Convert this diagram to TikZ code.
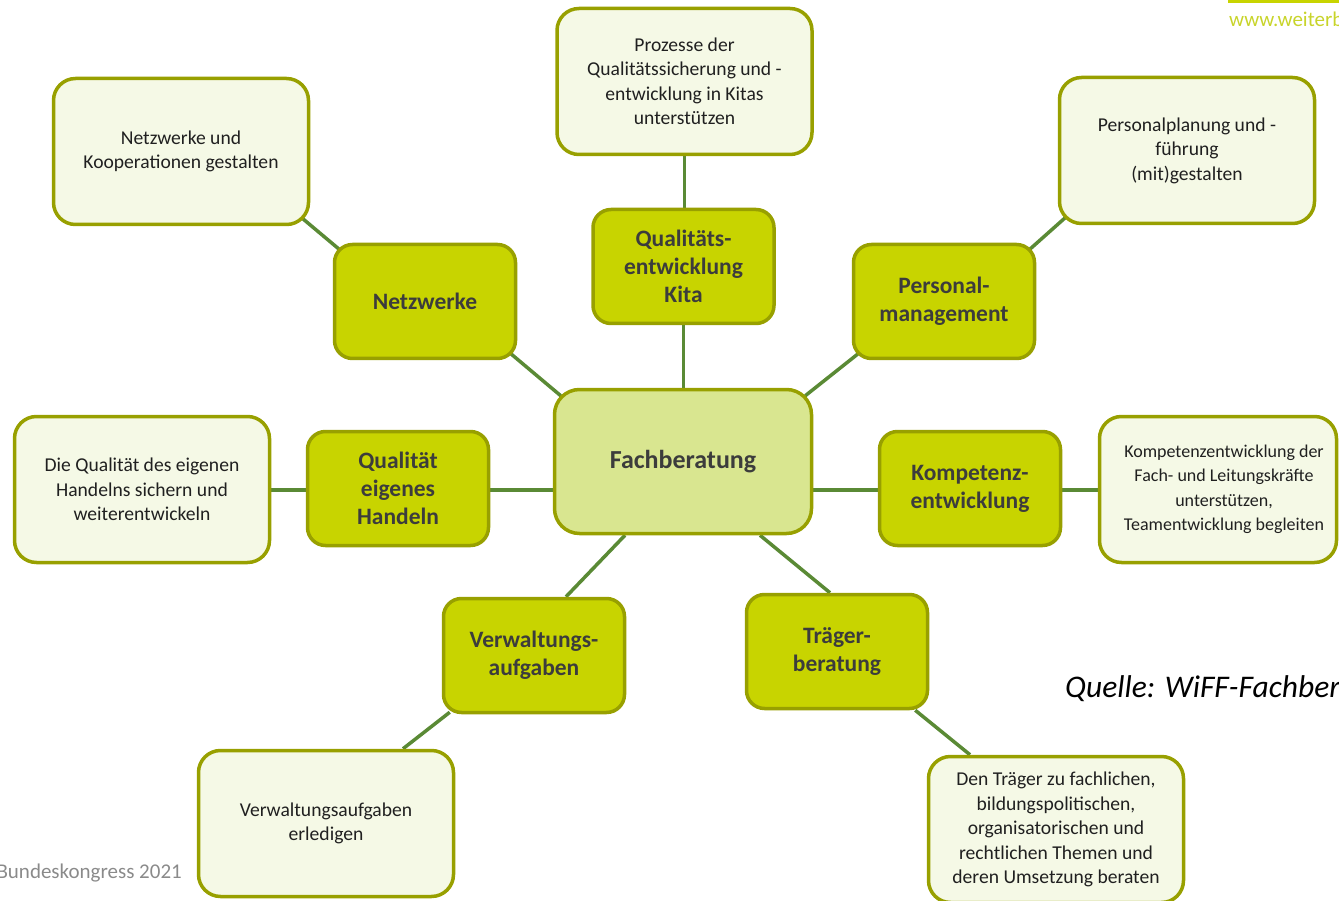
\documentclass[tikz,border=0pt]{standalone}
\usepackage{fontspec}
\setmainfont{Carlito}
\usetikzlibrary{calc,backgrounds}
\definecolor{bordc}{HTML}{98A000}
\definecolor{darkf}{HTML}{C8D400}
\definecolor{lightf}{HTML}{F5F9E6}
\definecolor{fachf}{HTML}{D9E690}
\definecolor{linec}{HTML}{5A8A35}
\definecolor{txtd}{HTML}{3C3C3C}
\definecolor{txtl}{HTML}{202020}
\definecolor{webc}{HTML}{C8D42A}
\definecolor{footc}{HTML}{8A8A8A}
\begin{document}
\begin{tikzpicture}[x=1pt,y=-1pt,
  darkbox/.style={draw=bordc, fill=darkf, line width=3.5pt, rounded corners=18pt,
    minimum width=181pt, minimum height=114pt, align=center, inner sep=0pt,
    text=txtd, font=\fontsize{23.5}{28}\selectfont\bfseries},
  lightbox/.style={draw=bordc, fill=lightf, line width=3.5pt, rounded corners=22pt,
    minimum width=255pt, minimum height=146pt, align=center, inner sep=0pt,
    text=txtl, font=\fontsize{19.6}{24.5}\selectfont},
  fachbox/.style={draw=bordc, fill=fachf, line width=3.5pt, rounded corners=25pt,
    minimum width=257pt, minimum height=144pt, align=center, inner sep=0pt,
    text=txtd, font=\fontsize{26}{30}\selectfont\bfseries},
  conn/.style={draw=linec, line width=3.5pt}]
\useasboundingbox (0,0) rectangle (1339,901);
\clip (0,0) rectangle (1339,901);

% header / footer
\fill[darkf] (1228,0) rectangle (1339,3);
\node[anchor=base west, inner sep=0pt, text=webc, font=\fontsize{21}{24}\selectfont] (web) at (1229,27) {www.weiterb};
\node[anchor=base east, inner sep=0pt, text=footc, font=\fontsize{21}{24}\selectfont] (foot) at (182,878) {Bundeskongress 2021};
\node[anchor=base west, inner sep=0pt, text=black, font=\fontsize{31.5}{34}\selectfont\itshape] (quelle) at (1065,697) {Quelle: WiFF-Fachber};

% central
\node[fachbox] (fach) at (683,461.5) {Fachberatung};

% dark boxes
\node[darkbox] (net)   at (425,301.5) {Netzwerke};
\node[darkbox] (qek)   at (683.5,266.5) {Qualitäts-\\entwicklung\\Kita};
\node[darkbox] (pers)  at (944,301.5) {Personal-\\management};
\node[darkbox] (qeh)   at (398,488.5) {Qualität\\eigenes\\Handeln};
\node[darkbox] (komp)  at (970,488.5) {Kompetenz-\\entwicklung};
\node[darkbox] (verw)  at (534,655.5) {Verwaltungs-\\aufgaben};
\node[darkbox] (traeg) at (837,651.5) {Träger-\\beratung};

% light boxes
\node[lightbox] (netL)   at (181,151.5) {Netzwerke und\\Kooperationen gestalten};
\node[lightbox] (qekL)   at (684.5,81.5) {Prozesse der\\Qualitätssicherung und -\\entwicklung in Kitas\\unterstützen};
\node[lightbox] (persL)  at (1187,150.5) {Personalplanung und -\\führung\\(mit)gestalten};
\node[lightbox] (qehL)   at (142,489.5) {Die Qualität des eigenen\\Handelns sichern und\\weiterentwickeln};
\node[lightbox, minimum width=237pt, font=\fontsize{18}{24.5}\selectfont] (kompL) at (1218,489.5) {\hspace*{12pt}Kompetenzentwicklung der\\\hspace*{12pt}Fach- und Leitungskräfte\\\hspace*{12pt}unterstützen,\\\hspace*{12pt}Teamentwicklung begleiten};
\node[lightbox] (verwL)  at (326,823.5) {Verwaltungsaufgaben\\erledigen};
\node[lightbox] (traegL) at (1056,829.5) {Den Träger zu fachlichen,\\bildungspolitischen,\\organisatorischen und\\rechtlichen Themen und\\deren Umsetzung beraten};

\coordinate (hl) at (0,490);

% connectors
\begin{scope}[on background layer]
\draw[conn] ($(netL.south east)+(-8,-8)$) -- ($(net.north west)+(7,7)$);
\draw[conn] ($(net.south east)+(-7,-7)$) -- ($(fach.north west)+(8,8)$);
\draw[conn] (qekL.south) -- (qekL.south |- qek.north);
\draw[conn] (qek.south) -- (qek.south |- fach.north);
\draw[conn] ($(persL.south west)+(8,-8)$) -- ($(pers.north east)+(-7,7)$);
\draw[conn] ($(pers.south west)+(7,-7)$) -- ($(fach.north east)+(-8,8)$);
\draw[conn] (qehL.east |- hl) -- (qeh.west |- hl);
\draw[conn] (qeh.east |- hl) -- (fach.west |- hl);
\draw[conn] (fach.east |- hl) -- (komp.west |- hl);
\draw[conn] (komp.east |- hl) -- (kompL.west |- hl);
\draw[conn] ($(fach.south)+(-58,0)$) -- ($(verw.north)+(32,0)$);
\draw[conn] ($(verw.south west)+(8,-2)$) -- ($(verwL.north)+(77,0)$);
\draw[conn] ($(fach.south)+(77,0)$) -- ($(traeg.north)+(-7,0)$);
\draw[conn] ($(traeg.south east)+(-14,0)$) -- ($(traegL.north)+(-86,0)$);
\end{scope}
\end{tikzpicture}
\end{document}
